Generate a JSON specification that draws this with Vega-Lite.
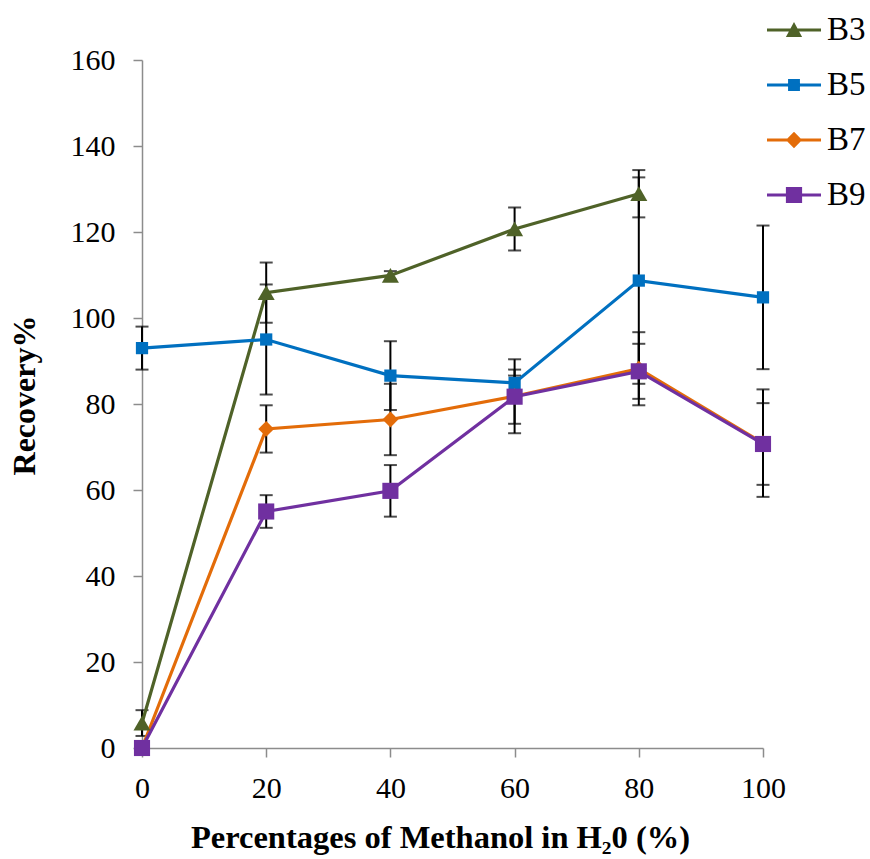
{
  "$schema": "https://vega.github.io/schema/vega-lite/v6.json",
  "width": 621,
  "height": 688,
  "autosize": {"type": "none"},
  "padding": {"left": 142, "top": 60, "right": 107, "bottom": 111},
  "background": "white",
  "config": {"font": "Liberation Serif", "view": {"stroke": null}},
  "data": {
    "values": [
      {"x": 0, "y": 5.8, "err": 3, "s": "B3"},
      {"x": 20, "y": 105.9, "err": 7, "s": "B3"},
      {"x": 40, "y": 109.9, "err": 1, "s": "B3"},
      {"x": 60, "y": 120.7, "err": 5, "s": "B3"},
      {"x": 80, "y": 128.9, "err": 5.5, "s": "B3"},
      {"x": 0, "y": 93.0, "err": 5, "s": "B5"},
      {"x": 20, "y": 95.0, "err": 12.8, "s": "B5"},
      {"x": 40, "y": 86.6, "err": 8, "s": "B5"},
      {"x": 60, "y": 84.9, "err": 1.7, "s": "B5"},
      {"x": 80, "y": 108.7, "err": 24, "s": "B5"},
      {"x": 100, "y": 104.8, "err": 16.7, "s": "B5"},
      {"x": 0, "y": 0, "err": 0, "s": "B7"},
      {"x": 20, "y": 74.2, "err": 5.5, "s": "B7"},
      {"x": 40, "y": 76.4, "err": 8.3, "s": "B7"},
      {"x": 60, "y": 81.8, "err": 8.6, "s": "B7"},
      {"x": 80, "y": 88.2, "err": 8.5, "s": "B7"},
      {"x": 100, "y": 70.9, "err": 12.5, "s": "B7"},
      {"x": 0, "y": 0, "err": 0, "s": "B9"},
      {"x": 20, "y": 55.0, "err": 3.8, "s": "B9"},
      {"x": 40, "y": 59.8, "err": 6, "s": "B9"},
      {"x": 60, "y": 81.7, "err": 6.3, "s": "B9"},
      {"x": 80, "y": 87.6, "err": 6.4, "s": "B9"},
      {"x": 100, "y": 70.7, "err": 9.5, "s": "B9"}
    ]
  },
  "encoding": {
    "x": {
      "field": "x", "type": "quantitative",
      "scale": {"domain": [0, 100], "nice": false, "zero": false},
      "axis": {
        "values": [0, 20, 40, 60, 80, 100],
        "grid": false, "labelFlush": false,
        "domainColor": "#8c8c8c", "domainWidth": 1.5,
        "tickColor": "#8c8c8c", "tickWidth": 1.5, "tickSize": 9,
        "labelFont": "Liberation Serif", "labelFontSize": 30, "labelColor": "black",
        "labelPadding": 16,
        "title": "Percentages of Methanol in H₂0 (%)",
        "titleFont": "Liberation Serif", "titleFontSize": 32.5, "titleFontWeight": "bold",
        "titleColor": "black", "titlePadding": 18,
        "titleX": 298, "titleAlign": "center"
      }
    },
    "y": {
      "field": "y", "type": "quantitative",
      "scale": {"domain": [0, 160], "nice": false},
      "axis": {
        "values": [0, 20, 40, 60, 80, 100, 120, 140, 160],
        "grid": false, "labelFlush": false,
        "domainColor": "#8c8c8c", "domainWidth": 1.5,
        "tickColor": "#8c8c8c", "tickWidth": 1.5, "tickSize": 9,
        "labelFont": "Liberation Serif", "labelFontSize": 30, "labelColor": "black",
        "labelPadding": 18,
        "title": "Recovery%",
        "titleFont": "Liberation Serif", "titleFontSize": 32, "titleFontWeight": "bold",
        "titleColor": "black", "titlePadding": 29,
        "titleY": 335, "titleAlign": "center"
      }
    }
  },
  "layer": [
    {
      "transform": [{"filter": "datum.err > 0"}],
      "mark": {"type": "errorbar", "color": "black", "thickness": 2, "ticks": {"size": 13, "thickness": 2, "color": "black"}},
      "encoding": {
        "yError": {"field": "err"},
        "detail": {"field": "s"}
      }
    },
    {
      "mark": {"type": "line", "strokeWidth": 3.2},
      "encoding": {
        "color": {
          "field": "s", "type": "nominal",
          "scale": {"domain": ["B3", "B5", "B7", "B9"], "range": ["#4F6228", "#0070C0", "#E36C09", "#7030A0"]},
          "legend": {
            "orient": "none", "legendX": 625, "legendY": -57,
            "title": null, "padding": 0, "rowPadding": 11,
            "labelFont": "Liberation Serif", "labelFontSize": 33, "labelColor": "black",
            "labelOffset": 6, "symbolSize": 2916, "symbolStrokeWidth": 0,
            "encode": {
              "symbols": {
                "update": {
                  "shape": {"signal": "datum.value == 'B3' ? 'M-1,-0.056H1V0.056H-1Z M-0.3,0.26L0,-0.3L0.3,0.26Z' : datum.value == 'B5' ? 'M-1,-0.056H1V0.056H-1Z M-0.22,-0.22H0.22V0.22H-0.22Z' : datum.value == 'B7' ? 'M-1,-0.056H1V0.056H-1Z M0,-0.31L0.3,0L0,0.31L-0.3,0Z' : 'M-1,-0.056H1V0.056H-1Z M-0.3,-0.3H0.3V0.3H-0.3Z'"},
                  "fill": {"scale": "color", "field": "value"},
                  "strokeWidth": {"value": 0},
                  "opacity": {"value": 1}
                }
              }
            }
          }
        }
      }
    },
    {
      "transform": [{"filter": "datum.s == 'B3'"}],
      "mark": {"type": "point", "filled": true, "opacity": 1, "shape": "triangle-up", "size": 290, "color": "#4F6228"},
      "encoding": {}
    },
    {
      "transform": [{"filter": "datum.s == 'B5'"}],
      "mark": {"type": "point", "filled": true, "opacity": 1, "shape": "square", "size": 150, "color": "#0070C0"},
      "encoding": {}
    },
    {
      "transform": [{"filter": "datum.s == 'B7'"}],
      "mark": {"type": "point", "filled": true, "opacity": 1, "shape": "diamond", "size": 250, "color": "#E36C09"},
      "encoding": {}
    },
    {
      "transform": [{"filter": "datum.s == 'B9'"}],
      "mark": {"type": "point", "filled": true, "opacity": 1, "shape": "square", "size": 260, "color": "#7030A0"},
      "encoding": {}
    }
  ]
}
